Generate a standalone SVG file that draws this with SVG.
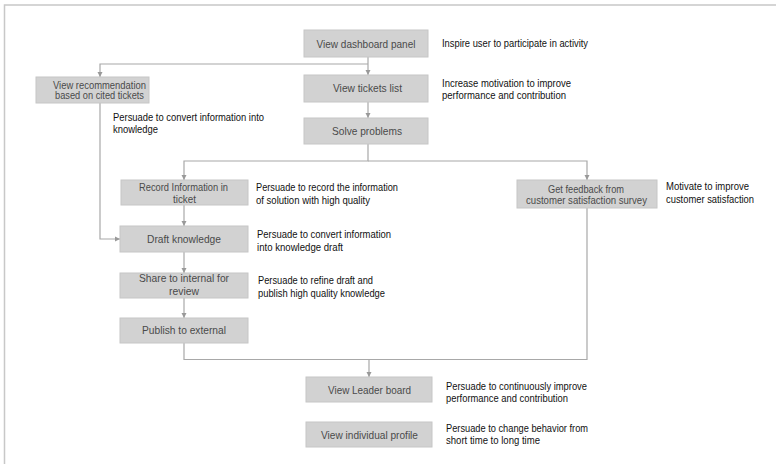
<svg xmlns="http://www.w3.org/2000/svg" width="776" height="464" viewBox="0 0 776 464">
<style>
.box{fill:#d2d2d2;stroke:#c6c6c6;stroke-width:1}
.nt{font-family:"Liberation Sans",Arial,sans-serif;font-size:11px;fill:#4a4a4a;text-anchor:middle}
.at{font-family:"Liberation Sans",Arial,sans-serif;font-size:11px;fill:#111}
.cn{fill:none;stroke:#a8a8a8;stroke-width:1.2}
.frame{fill:none;stroke:#c8c8c8;stroke-width:1.5}
</style>
<defs>
<marker id="ah" markerWidth="6" markerHeight="6" refX="5" refY="3" orient="auto" markerUnits="userSpaceOnUse">
<path d="M0,0.5 L5,3 L0,5.5 Z" fill="#999"/>
</marker>
</defs>
<rect width="776" height="464" fill="#fff"/>
<path class="frame" d="M4.5,464 V5 H776"/>

<g id="connectors">
<path class="cn" d="M368,57 V75" marker-end="url(#ah)"/>
<path class="cn" d="M368,64 H100 V77" marker-end="url(#ah)"/>
<path class="cn" d="M368,102 V118" marker-end="url(#ah)"/>
<path class="cn" d="M368,144 V161 H184 V180" marker-end="url(#ah)"/>
<path class="cn" d="M368,161 H587 V180" marker-end="url(#ah)"/>
<path class="cn" d="M100,103 V239 H120" marker-end="url(#ah)"/>
<path class="cn" d="M184,205 V226" marker-end="url(#ah)"/>
<path class="cn" d="M184,252 V273" marker-end="url(#ah)"/>
<path class="cn" d="M184,298 V318" marker-end="url(#ah)"/>
<path class="cn" d="M184,343 V359.5 H369 V377" marker-end="url(#ah)"/>
<path class="cn" d="M587,208 V359.5 H369"/>
</g>

<g id="dashboard">
<rect class="box" x="304" y="30" width="124" height="27"/>
<text class="nt" x="366" y="47.5" textLength="99" lengthAdjust="spacingAndGlyphs">View dashboard panel</text>
<text class="at" x="442" y="47" textLength="146" lengthAdjust="spacingAndGlyphs">Inspire user to participate in activity</text>
</g>

<g id="recommendation">
<rect class="box" x="36" y="77" width="113" height="26"/>
<text class="nt" x="99.5" y="88.5" textLength="93" lengthAdjust="spacingAndGlyphs">View recommendation</text>
<text class="nt" x="99.5" y="99" textLength="89" lengthAdjust="spacingAndGlyphs">based on cited tickets</text>
<text class="at" x="113" y="120.5" textLength="151" lengthAdjust="spacingAndGlyphs">Persuade to convert information into</text>
<text class="at" x="113" y="133" textLength="45" lengthAdjust="spacingAndGlyphs">knowledge</text>
</g>

<g id="tickets">
<rect class="box" x="304" y="75" width="124" height="27"/>
<text class="nt" x="367.5" y="91.5" textLength="69" lengthAdjust="spacingAndGlyphs">View tickets list</text>
<text class="at" x="442" y="86.5" textLength="129" lengthAdjust="spacingAndGlyphs">Increase motivation to improve</text>
<text class="at" x="442" y="98.5" textLength="124" lengthAdjust="spacingAndGlyphs">performance and contribution</text>
</g>

<g id="solve">
<rect class="box" x="304" y="118" width="124" height="26"/>
<text class="nt" x="367" y="134.5" textLength="70" lengthAdjust="spacingAndGlyphs">Solve problems</text>
</g>

<g id="record">
<rect class="box" x="121" y="180" width="127" height="25"/>
<text class="nt" x="183.5" y="190.5" textLength="89" lengthAdjust="spacingAndGlyphs">Record Information in</text>
<text class="nt" x="184.5" y="202.5" textLength="23" lengthAdjust="spacingAndGlyphs">ticket</text>
<text class="at" x="256" y="191" textLength="142" lengthAdjust="spacingAndGlyphs">Persuade to record the information</text>
<text class="at" x="256" y="203.5" textLength="114" lengthAdjust="spacingAndGlyphs">of solution with high quality</text>
</g>

<g id="draft">
<rect class="box" x="120" y="226" width="128" height="26"/>
<text class="nt" x="184" y="243" textLength="74" lengthAdjust="spacingAndGlyphs">Draft knowledge</text>
<text class="at" x="257" y="238" textLength="134" lengthAdjust="spacingAndGlyphs">Persuade to convert information</text>
<text class="at" x="257" y="251" textLength="86" lengthAdjust="spacingAndGlyphs">into knowledge draft</text>
</g>

<g id="share">
<rect class="box" x="120" y="273" width="128" height="25"/>
<text class="nt" x="184" y="282" textLength="90" lengthAdjust="spacingAndGlyphs">Share to internal for</text>
<text class="nt" x="184" y="294.5" textLength="30" lengthAdjust="spacingAndGlyphs">review</text>
<text class="at" x="258" y="284" textLength="115" lengthAdjust="spacingAndGlyphs">Persuade to refine draft and</text>
<text class="at" x="258" y="296.5" textLength="127" lengthAdjust="spacingAndGlyphs">publish high quality knowledge</text>
</g>

<g id="publish">
<rect class="box" x="120" y="318" width="128" height="25"/>
<text class="nt" x="184" y="334" textLength="84" lengthAdjust="spacingAndGlyphs">Publish to external</text>
</g>

<g id="feedback">
<rect class="box" x="517" y="180" width="140" height="28"/>
<text class="nt" x="586" y="193" textLength="76" lengthAdjust="spacingAndGlyphs">Get feedback from</text>
<text class="nt" x="586.5" y="204" textLength="121" lengthAdjust="spacingAndGlyphs">customer satisfaction  survey</text>
<text class="at" x="666" y="190" textLength="83" lengthAdjust="spacingAndGlyphs">Motivate to improve</text>
<text class="at" x="666" y="202.5" textLength="88" lengthAdjust="spacingAndGlyphs">customer satisfaction</text>
</g>

<g id="leader">
<rect class="box" x="306" y="377" width="126" height="25"/>
<text class="nt" x="369.5" y="393.5" textLength="83" lengthAdjust="spacingAndGlyphs">View Leader board</text>
<text class="at" x="446" y="390" textLength="141" lengthAdjust="spacingAndGlyphs">Persuade to continuously improve</text>
<text class="at" x="446" y="402" textLength="122" lengthAdjust="spacingAndGlyphs">performance and contribution</text>
</g>

<g id="profile">
<rect class="box" x="306" y="422" width="126" height="25"/>
<text class="nt" x="369.5" y="438.5" textLength="97" lengthAdjust="spacingAndGlyphs">View individual profile</text>
<text class="at" x="446" y="432" textLength="142" lengthAdjust="spacingAndGlyphs">Persuade to change behavior from</text>
<text class="at" x="446" y="444" textLength="94" lengthAdjust="spacingAndGlyphs">short time to long time</text>
</g>
</svg>
